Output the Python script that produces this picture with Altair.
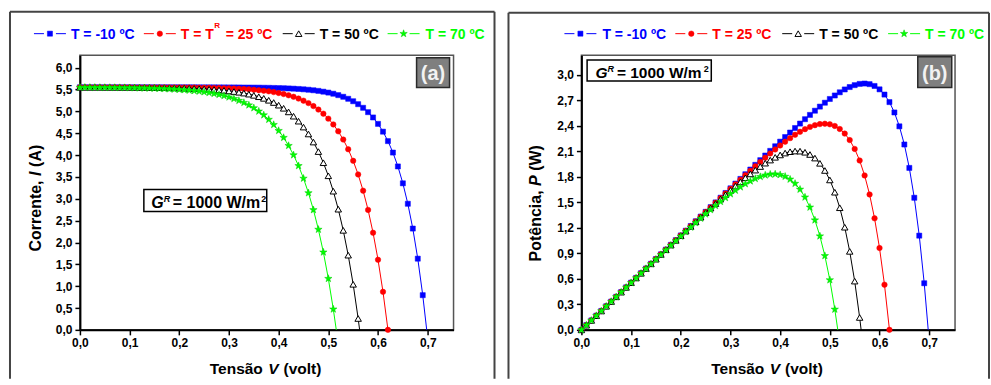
import altair as alt
import pandas as pd

FONT = "Liberation Sans"

# ---------------- data ----------------
VOLTS = [0.00, 0.01, 0.02, 0.03, 0.04, 0.05, 0.06, 0.07, 0.08, 0.09,
         0.10, 0.11, 0.12, 0.13, 0.14, 0.15, 0.16, 0.17, 0.18, 0.19,
         0.20, 0.21, 0.22, 0.23, 0.24, 0.25, 0.26, 0.27, 0.28, 0.29,
         0.30, 0.31, 0.32, 0.33, 0.34, 0.35, 0.36, 0.37, 0.38, 0.39,
         0.40, 0.41, 0.42, 0.43, 0.44, 0.45, 0.46, 0.47, 0.48, 0.49,
         0.50, 0.51, 0.52, 0.53, 0.54, 0.55, 0.56, 0.57, 0.58, 0.59,
         0.60, 0.61, 0.62, 0.63, 0.64, 0.65, 0.66, 0.67, 0.68, 0.69]

# current (A) at each voltage step, T = -10 ºC
I_M10 = [5.550, 5.550, 5.550, 5.550, 5.550, 5.550, 5.550, 5.550, 5.550, 5.550,
         5.550, 5.550, 5.550, 5.550, 5.550, 5.550, 5.550, 5.550, 5.550, 5.550,
         5.550, 5.550, 5.550, 5.550, 5.549, 5.549, 5.549, 5.549, 5.548, 5.548,
         5.547, 5.547, 5.546, 5.545, 5.544, 5.543, 5.542, 5.540, 5.538, 5.535,
         5.532, 5.529, 5.524, 5.519, 5.512, 5.504, 5.494, 5.482, 5.468, 5.450,
         5.429, 5.403, 5.371, 5.333, 5.287, 5.231, 5.164, 5.081, 4.981, 4.860,
         4.713, 4.535, 4.319, 4.057, 3.739, 3.353, 2.885, 2.318, 1.629, 0.794]
# T = 25 ºC
I_25 = [5.550, 5.550, 5.550, 5.550, 5.550, 5.549, 5.549, 5.549, 5.549, 5.549,
        5.549, 5.548, 5.548, 5.548, 5.548, 5.548, 5.548, 5.547, 5.547, 5.546,
        5.546, 5.545, 5.544, 5.543, 5.541, 5.540, 5.538, 5.536, 5.533, 5.530,
        5.526, 5.522, 5.517, 5.511, 5.503, 5.495, 5.484, 5.472, 5.458, 5.440,
        5.420, 5.396, 5.367, 5.333, 5.292, 5.244, 5.188, 5.120, 5.040, 4.946,
        4.833, 4.700, 4.542, 4.354, 4.132, 3.868, 3.556, 3.185, 2.745, 2.223,
        1.604, 0.870, 0.000]
# T = 50 ºC
I_50 = [5.549, 5.549, 5.549, 5.549, 5.549, 5.548, 5.548, 5.548, 5.547, 5.547,
        5.547, 5.546, 5.545, 5.545, 5.544, 5.542, 5.541, 5.540, 5.538, 5.536,
        5.533, 5.530, 5.527, 5.523, 5.518, 5.513, 5.506, 5.499, 5.490, 5.480,
        5.467, 5.453, 5.436, 5.417, 5.393, 5.366, 5.334, 5.297, 5.253, 5.202,
        5.141, 5.070, 4.987, 4.889, 4.775, 4.640, 4.482, 4.297, 4.079, 3.824,
        3.525, 3.173, 2.761, 2.277, 1.709, 1.042, 0.260]
# T = 70 ºC
I_70 = [5.547, 5.547, 5.546, 5.546, 5.545, 5.544, 5.544, 5.543, 5.541, 5.540,
        5.538, 5.537, 5.534, 5.532, 5.529, 5.526, 5.522, 5.517, 5.512, 5.506,
        5.499, 5.491, 5.481, 5.470, 5.458, 5.443, 5.426, 5.406, 5.383, 5.356,
        5.325, 5.289, 5.247, 5.199, 5.143, 5.078, 5.002, 4.915, 4.813, 4.695,
        4.558, 4.399, 4.215, 4.001, 3.754, 3.466, 3.133, 2.746, 2.297, 1.777,
        1.173, 0.473]
# open-circuit voltage where each curve reaches zero current
VOC = [0.698, 0.620, 0.563, 0.516]

SERIES = ["m10", "t25", "t50", "t70"]
LABELS_A = ["T = -10 ºC", "T = T", "T = 50 ºC", "T = 70 ºC"]
LABELS_B = ["T = -10 ºC", "T = 25 ºC", "T = 50 ºC", "T = 70 ºC"]
X_TICKS = [0.0, 0.1, 0.2, 0.3, 0.4, 0.5, 0.6, 0.7]
I_TICKS = [0.0, 0.5, 1.0, 1.5, 2.0, 2.5, 3.0, 3.5, 4.0, 4.5, 5.0, 5.5, 6.0]
P_TICKS = [0.0, 0.3, 0.6, 0.9, 1.2, 1.5, 1.8, 2.1, 2.4, 2.7, 3.0]

rows = []
for s, vals, voc in zip(SERIES, [I_M10, I_25, I_50, I_70], VOC):
    for v, i in zip(VOLTS, vals):
        rows.append({"serie": s, "V": v, "I": i, "mk": 1})
    rows.append({"serie": s, "V": voc, "I": 0.0, "mk": 0})
df = pd.DataFrame(rows)
ONE = pd.DataFrame({"k": [0]})

STAR = ("M0,-1L0.235,-0.324L0.951,-0.309L0.380,0.124L0.588,0.809L0,0.4"
        "L-0.588,0.809L-0.380,0.124L-0.951,-0.309L-0.235,-0.324Z")
STY = {
    "m10": dict(line="#0000ff", shape="square", fill="#0000ff", stroke="#0000ff", sw=0.5, size=26),
    "t25": dict(line="#ff0000", shape="circle", fill="#ff0000", stroke="#ff0000", sw=0.5, size=30),
    "t50": dict(line="#000000", shape="triangle-up", fill="#ffffff", stroke="#000000", sw=1.0, size=42),
    "t70": dict(line="#00ff00", shape=STAR, fill="#00ff00", stroke="#00cc00", sw=0.5, size=60),
}

W, H = 374, 275
LABEL_EXPR = "replace(format(datum.value, '.1f'), '.', ',')"


def axis(values):
    return alt.Axis(values=values, labelExpr=LABEL_EXPR, title=None, grid=False,
                    tickSize=5, tickWidth=1.5, tickColor="black", domainColor="black",
                    domainWidth=2, labelFont=FONT, labelFontWeight="bold", labelFontSize=12,
                    labelColor="black", labelFlush=False, labelPadding=3)


def text(t, x, y, size=16, style="normal", color="black", align="left",
         baseline="alphabetic", angle=0):
    return alt.Chart(ONE).mark_text(text=t, font=FONT, fontWeight="bold", fontStyle=style,
                                    fontSize=size, color=color, align=align, angle=angle,
                                    baseline=baseline).encode(x=alt.value(x), y=alt.value(y))


def box(x1, x2, y1, y2, fill, stroke, sw):
    return alt.Chart(ONE).mark_rect(fill=fill, stroke=stroke, strokeWidth=sw).encode(
        x=alt.value(x1), x2=alt.value(x2), y=alt.value(y1), y2=alt.value(y2))


def hrule(x1, x2, y, color, sw):
    return alt.Chart(ONE).mark_rule(color=color, strokeWidth=sw).encode(
        x=alt.value(x1), x2=alt.value(x2), y=alt.value(y))


def vrule(x, y1, y2, color, sw):
    return alt.Chart(ONE).mark_rule(color=color, strokeWidth=sw).encode(
        x=alt.value(x), y=alt.value(y1), y2=alt.value(y2))


def legend_symbol(x0, y0, s):
    st = STY[s]
    return [
        hrule(x0, x0 + 10, y0, st["line"], 1),
        hrule(x0 + 22, x0 + 32, y0, st["line"], 1),
        alt.Chart(ONE).mark_point(shape=st["shape"], filled=True, fill=st["fill"],
                                  stroke=st["stroke"], strokeWidth=st["sw"], size=st["size"],
                                  opacity=1).encode(x=alt.value(x0 + 16), y=alt.value(y0)),
    ]


def panel(yfield, ymax, yticks, ytitle, frame, legend, gbox, tag):
    X = alt.X("V:Q", scale=alt.Scale(domain=[0, 0.752], nice=False, zero=False),
              axis=axis(X_TICKS))
    Y = alt.Y(f"{yfield}:Q", scale=alt.Scale(domain=[0, ymax], nice=False),
              axis=axis(yticks))
    base = alt.Chart(df).transform_calculate(P="datum.V * datum.I")
    layers = []
    # outer frame of the panel
    fl, fr, ft, fb = frame
    layers += [vrule(fl, ft, fb, "#444444", 2), hrule(fl, fr, ft, "#444444", 2),
               vrule(fr, ft, fb, "#444444", 2)]
    for s in SERIES:
        st = STY[s]
        b = base.transform_filter(alt.datum.serie == s)
        layers.append(b.mark_line(color=st["line"], strokeWidth=1).encode(
            x=X, y=Y, order=alt.Order("V:Q")))
        layers.append(b.transform_filter(alt.datum.mk == 1).mark_point(
            shape=st["shape"], filled=True, fill=st["fill"], stroke=st["stroke"],
            strokeWidth=st["sw"], size=st["size"], opacity=1).encode(x=X, y=Y))
    # axis titles (with italic symbol)
    layers.append(text("Tensão", 130, 319, size=15.5))
    layers.append(text("V", 188.6, 319, size=15.5, style="italic"))
    layers.append(text("(volt)", 203.8, 319, size=15.5))
    (t1, t2, t3), (ybx, y1, y2, y3) = ytitle
    layers.append(text(t1, ybx, y1, angle=270))
    layers.append(text(t2, ybx, y2, angle=270, style="italic"))
    layers.append(text(t3, ybx, y3, angle=270))
    # legend
    for (xs, xt, label), s in zip(legend["items"], SERIES):
        layers += legend_symbol(xs, -21.5, s)
        layers.append(text(label, xt, -16, size=14, color=STY[s]["line"]))
    layers += legend.get("extra", [])
    # G^R box
    bx1, bx2, by1, by2, gx, base_y, fs, sup = gbox
    layers.append(box(bx1, bx2, by1, by2, "white", "black", 1.5))
    layers.append(text("G", gx, base_y, size=fs, style="italic"))
    layers.append(text("R", gx + sup[0], base_y - 6, size=9, style="italic"))
    layers.append(text("= 1000 W/m", gx + sup[1], base_y, size=fs))
    layers.append(text("2", gx + sup[2], base_y - 6, size=9))
    # panel tag
    tx1, tx2, ty1, ty2, tlabel = tag
    layers.append(box(tx1, tx2, ty1, ty2, "#7f7f7f", "#2a2a2a", 1.5))
    layers.append(text(tlabel, (tx1 + tx2) / 2, ty2 - 8, size=20, color="#f2f2f2", align="center"))
    return alt.layer(*layers).properties(width=W, height=H)


left = panel(
    "I", 6.286, I_TICKS,
    (("Corrente,", "I", "(A)"), (-39, 196.5, 120.9, 111.9)),
    frame=(-70, 415, -43.5, 324),
    legend={"items": [(-46, -9, LABELS_A[0]), (64, 101, LABELS_A[1]),
                      (203, 240, LABELS_A[2]), (308, 346, LABELS_A[3])],
            "extra": [text("R", 134.5, -27, size=8, color="#ff0000"),
                      text("= 25 ºC", 146, -16, size=14, color="#ff0000")]},
    gbox=(64, 187, 134.5, 156.5, 71.5, 153, 16, (12.5, 21.5, 110)),
    tag=(337, 370, 2.5, 32.5, "(a)"),
)

right = panel(
    "P", 3.23, P_TICKS,
    (("Potência,", "P", "(W)"), (-40, 206.5, 130.9, 115.8)),
    frame=(-73, 408, -42.5, 324),
    legend={"items": [(-17, 21, LABELS_B[0]), (94, 131, LABELS_B[1]),
                      (201, 238, LABELS_B[2]), (307, 344, LABELS_B[3])]},
    gbox=(5.7, 130, 4.8, 25.8, 14, 23, 15.5, (12, 21.5, 108.5)),
    tag=(336.7, 370.7, 1.5, 32.5, "(b)"),
)

chart = alt.hconcat(left, right, spacing=128, bounds="flush").properties(
    padding={"left": 8, "top": 9, "right": 0, "bottom": 0}
).configure_view(stroke="#555555", strokeWidth=1.5)

chart.save("out.html", embed_options={"renderer": "svg", "actions": False})
